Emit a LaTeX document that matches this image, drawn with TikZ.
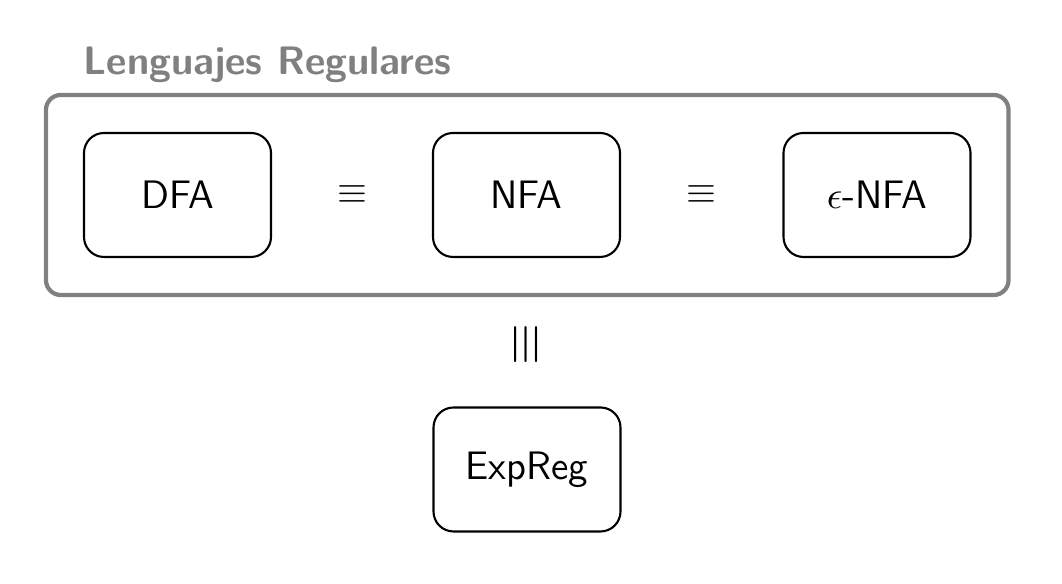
\documentclass[tikz,border=0pt]{standalone}
\usepackage{amsmath}
\usepackage{graphicx}
\usetikzlibrary{calc}
\usetikzlibrary{positioning, fit, backgrounds}

\begin{document}
\begin{tikzpicture}[
    every node/.style={font=\sffamily\fontsize{11.3}{13}\selectfont},
    automata/.style={draw, rectangle, rounded corners=0.2cm, line width=0.6pt, minimum width=1.87cm, minimum height=1.24cm},
    clase/.style={draw=gray, rounded corners=0.15cm, line width=1.2pt, inner sep=0.37cm}
]
\useasboundingbox (0,0) rectangle (10.62,5.84);

% Automatas
\node[automata] (dfa) at (1.775, 3.89) {DFA};
\node[automata] (nfa) at (5.265, 3.89) {NFA};
\node[automata] (enfa) at (8.77, 3.89) {$\epsilon$-NFA};

% Lenguajes regulares
\begin{scope}[on background layer]
\node[clase, fit=(dfa) (nfa) (enfa)] (reg) {};
\end{scope}
\node[anchor=base west, inner sep=0pt, text=gray, font=\sffamily\bfseries\fontsize{11.3}{13}\selectfont] (titulo) at (0.83, 5.09) {Lenguajes Regulares};

% Expresiones regulares
\node[automata] (expreg) at (5.27, 1.145) {ExpReg};

% Equivalencias
\node (eq1) at ($(dfa.east)!0.5!(nfa.west)$) {$\equiv$};
\node (eq2) at ($(nfa.east)!0.5!(enfa.west)$) {$\equiv$};
\node (eq3) at (5.27, 2.39) {\scalebox{1.4}{\rotatebox{90}{$\equiv$}}};

\end{tikzpicture}
\end{document}
